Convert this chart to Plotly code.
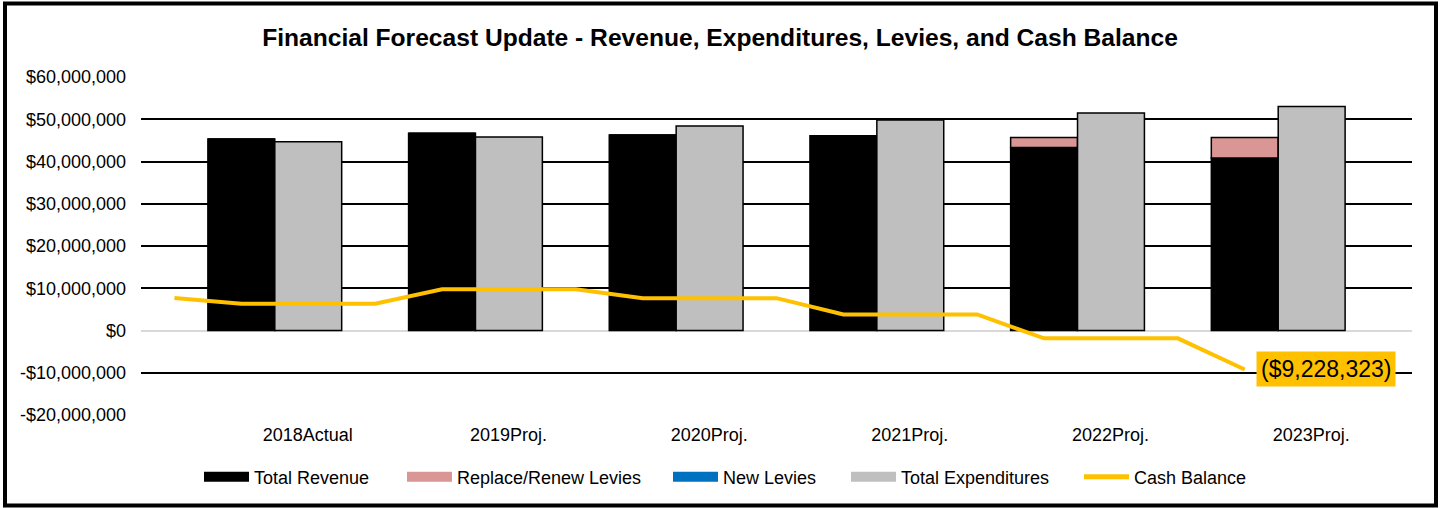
import plotly.graph_objects as go

# ---------------- data ----------------
years = ["2018Actual", "2019Proj.", "2020Proj.", "2021Proj.", "2022Proj.", "2023Proj."]
total_revenue = [45300000, 46700000, 46300000, 46100000, 43300000, 40800000]
replace_renew_levies = [0, 0, 0, 0, 2400000, 4900000]
new_levies = [0, 0, 0, 0, 0, 0]
total_expenditures = [44650000, 45800000, 48400000, 49800000, 51500000, 53000000]

# cash balance recorded on a finer period grid (3 periods per year, 19 periods)
cash_balance = [7700000, 6350000, None, 6350000, 9760000, None, 9760000,
                7650000, None, 7650000, 3800000, None, 3800000,
                -1850000, None, -1850000, -9228323, None, None]
cash_label = "($9,228,323)"

y_tick_vals = [60000000, 50000000, 40000000, 30000000, 20000000, 10000000, 0,
               -10000000, -20000000]
y_tick_text = ["$60,000,000", "$50,000,000", "$40,000,000", "$30,000,000",
               "$20,000,000", "$10,000,000", "$0", "-$10,000,000", "-$20,000,000"]

# ---------------- figure ----------------
FONT = "Arial, 'Liberation Sans', sans-serif"
outline = dict(color="black", width=1.5)
x_idx = list(range(len(years)))

fig = go.Figure()
fig.add_trace(go.Bar(x=x_idx, y=total_revenue, name="Total Revenue", showlegend=False,
                     marker=dict(color="black", line=outline), offsetgroup="rev"))
fig.add_trace(go.Bar(x=x_idx, y=replace_renew_levies, base=total_revenue,
                     name="Replace/Renew Levies", showlegend=False,
                     marker=dict(color="#D99694", line=outline), offsetgroup="rev"))
new_base = [a + b for a, b in zip(total_revenue, replace_renew_levies)]
fig.add_trace(go.Bar(x=x_idx, y=new_levies, base=new_base, name="New Levies",
                     showlegend=False,
                     marker=dict(color="#0070C0", line=dict(width=0)), offsetgroup="rev"))
fig.add_trace(go.Bar(x=x_idx, y=total_expenditures, name="Total Expenditures",
                     showlegend=False,
                     marker=dict(color="#BFBFBF", line=outline), offsetgroup="exp"))

periods = list(range(len(cash_balance)))
fig.add_trace(go.Scatter(x=periods, y=cash_balance, name="Cash Balance", mode="lines",
                         line=dict(color="#FFC000", width=4), connectgaps=True,
                         xaxis="x2", showlegend=False))

# outer chart border (in plot-area paper units)
L, R, T, B = 141, 1412, 77, 415
W, H = R - L, B - T
def px_x(p): return (p - L) / W
def px_y(p): return (B - p) / H

# legend entries (wide rectangular swatches like the original), each placed like the original
legend_items = [("Total Revenue", "black", 12, 204), ("Replace/Renew Levies", "#D99694", 12, 407),
                ("New Levies", "#0070C0", 12, 673), ("Total Expenditures", "#BFBFBF", 12, 851),
                ("Cash Balance", "#FFC000", 5, 1084)]
legend_layout = {}
for k, (name, color, w, left) in enumerate(legend_items):
    key = "legend" if k == 0 else f"legend{k + 1}"
    fig.add_trace(go.Scatter(x=[None], y=[None], mode="lines", name=name,
                             line=dict(color=color, width=w), xaxis="x2", legend=key))
    legend_layout[key] = dict(orientation="h", x=px_x(left - 5), xanchor="left",
                              y=px_y(477), yanchor="middle",
                              font=dict(family=FONT, size=18, color="black"),
                              itemwidth=45, bgcolor="rgba(0,0,0,0)",
                              itemclick=False, itemdoubleclick=False)

last_i = max(i for i, v in enumerate(cash_balance) if v is not None)
fig.add_annotation(x=periods[last_i], y=cash_balance[last_i], xref="x2", yref="y",
                   text=cash_label, showarrow=False, xanchor="left", yanchor="middle",
                   xshift=11, bgcolor="#FFC000", borderpad=4,
                   font=dict(family=FONT, size=23, color="black"))

fig.add_shape(type="rect", xref="paper", yref="paper",
              x0=px_x(5), x1=px_x(1436), y0=px_y(505.5), y1=px_y(3.5),
              line=dict(color="black", width=4), fillcolor="rgba(0,0,0,0)", layer="above")

fig.update_layout(
    width=1440, height=508,
    margin=dict(l=L, r=1440 - R, t=T, b=508 - B),
    paper_bgcolor="white", plot_bgcolor="white",
    barmode="group", bargap=1/3, bargroupgap=0,
    title=dict(text="<b>Financial Forecast Update - Revenue, Expenditures, Levies, and Cash Balance</b>",
               x=0.5, xanchor="center", y=1 - 37 / 508, yanchor="middle",
               font=dict(family=FONT, size=24.6, color="black")),
    font=dict(family=FONT, color="black"),
    xaxis=dict(tickmode="array", tickvals=x_idx, ticktext=years,
               range=[-4/6, len(years) - 1 + 4/6], showgrid=False, zeroline=False,
               showline=False, ticks="", ticklabelshift=33, ticklabelstandoff=7,
               tickfont=dict(family=FONT, size=18, color="black")),
    xaxis2=dict(overlaying="x", range=[-0.5, len(cash_balance) - 0.5], visible=False),
    yaxis=dict(range=[-20000000, 60000000], tickmode="array", tickvals=y_tick_vals,
               ticktext=y_tick_text, showgrid=True, gridcolor="black", gridwidth=1.5,
               zeroline=True, zerolinecolor="#D9D9D9", zerolinewidth=2,
               showline=False, ticks="", ticklabelstandoff=14,
               tickfont=dict(family=FONT, size=18, color="black")),
    showlegend=True,
    **legend_layout,
)

fig.write_html("out.html", config={"displayModeBar": False},
               post_script="document.body.style.margin='0';")
